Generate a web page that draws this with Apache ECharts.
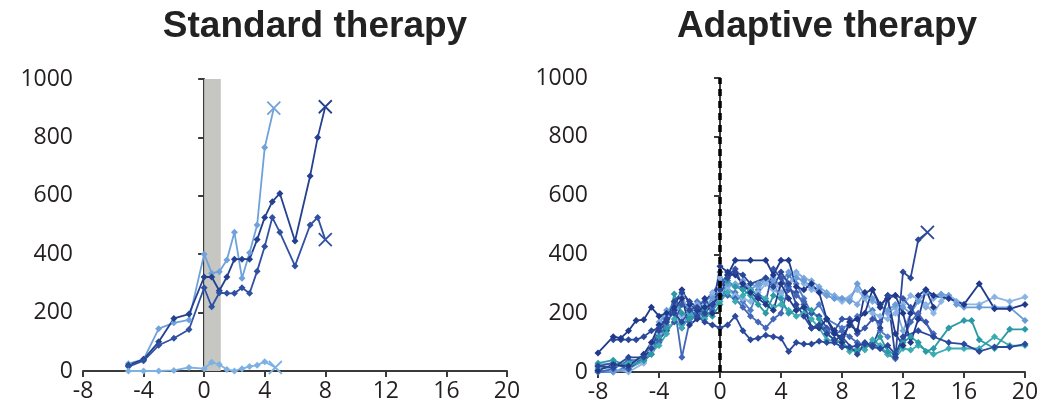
<!DOCTYPE html>
<html>
<head>
<meta charset="utf-8">
<script src="https://cdn.jsdelivr.net/npm/echarts@6/dist/echarts.min.js"></script>
<style>
  html, body { margin: 0; padding: 0; background: #fff; }
  #chart { width: 1052px; height: 404px; }
</style>
</head>
<body>
<div id="chart"></div>
<script>
// Tumour burden over time (months from treatment start) for each patient.
const xTicks = [-8, -4, 0, 4, 8, 12, 16, 20];
const yTicks = [0, 200, 400, 600, 800, 1000];
const titles = ['Standard therapy', 'Adaptive therapy'];

// Standard therapy window (shaded band), months
const standardWindow = [0, 1.1];
// Adaptive therapy start (dashed line), months
const adaptiveStart = 0;

// Standard therapy patients
const stdA = [[-5,25],[-4,40],[-3,145],[-2,165],[-1,175],[0,400],[0.5,335],[1,340],[1.5,380],[2,475],[2.5,318],[3,405],[3.5,500],[4,765],[4.6,900]];
const stdB = [[-5,20],[-4,40],[-3,100],[-2,180],[-1,195],[0,322],[0.5,322],[1,275],[1.5,322],[2,383],[2.5,383],[3,383],[3.5,450],[4,526],[4.5,580],[5,608],[6,445],[7,668],[7.5,800],[8,905]];
const stdC = [[-5,15],[-4,35],[-3,88],[-2,112],[-1,142],[0,285],[0.5,220],[1,268],[1.5,266],[2,266],[2.5,285],[3,266],[3.5,342],[4,426],[4.5,526],[5,475],[6,360],[7,500],[7.5,526],[8,450]];
const stdD = [[-5,0],[-4,0],[-3,0],[-2,2],[-1,12],[0,8],[0.5,30],[1,22],[1.5,5],[2,0],[2.5,8],[3,15],[3.5,20],[4,32],[4.7,12]];
const stdSeries = [stdA, stdB, stdC, stdD];
const stdColors = ['#6fa2db', '#24418f', '#3050a2', '#7db1e3'];
const stdEndsWithCross = [true, true, true, true];

// Adaptive therapy patients
const adpR1 = [[-8,20],[-7,15],[-6,50],[-5,50],[-4.5,80],[-4,140],[-3.5,170],[-3,240],[-2.5,270],[-2,240],[-1.5,220],[-1,200],[-0.5,230],[0,280],[0.5,320],[1,340],[1.5,330],[2,300],[3,320],[3.5,290],[4,340],[4.5,300],[5,230],[5.5,190],[6,150],[6.5,160],[7,130],[7.5,110],[8,120],[9,60],[9.5,100],[10,90],[10.5,150],[11,260],[11.5,50],[12,340],[12.5,320],[13,450],[13.6,475]];
const adpR2 = [[-8,65],[-7,120],[-6.5,115],[-6,140],[-5.5,175],[-5,178],[-4.5,220],[-4,190],[-3.5,200],[-3,220],[-2.5,280],[-2,230],[-1.5,210],[-1,220],[-0.5,230],[0,260],[0.5,330],[1,380],[2,380],[3,380],[3.5,330],[4,380],[4.5,380],[5,290],[5.5,280],[6,300],[6.5,270],[7,180],[7.5,140],[8,100],[8.5,170],[9,180],[9.5,200],[10,280],[10.5,220],[11,260],[11.5,260],[12,200],[12.5,100],[13,180],[13.5,280],[14,260],[15,250],[16,230],[17,300],[18,215],[19,215],[20,230]];
const adpR3 = [[-7,110],[-6.5,110],[-6,110],[-5.5,110],[-5,120],[-4.5,140],[-4,150],[-3.5,180],[-3,200],[-2.5,170],[-2,210],[-1.5,190],[-1,170],[-0.5,160],[0,150],[0.5,160],[1,190],[1.5,140],[2,110],[2.5,115],[3,125],[3.5,120],[4,115],[4.5,70],[5,100],[5.5,95],[6,95],[6.5,105],[7,100],[7.5,100],[8,85],[8.5,85],[9,90],[9.5,95],[10,85],[10.5,80],[11,90],[11.5,60],[12,120],[13,140],[14,120],[15,100],[16,95],[17,70],[18,85],[19,85],[20,95]];
const adpR4 = [[-8,30],[-7,40],[-6,20],[-5,40],[-4.5,60],[-4,120],[-3.5,150],[-3,265],[-2.5,200],[-2,180],[-1.5,190],[-1,210],[-0.5,190],[0,230],[0.5,310],[1,290],[1.5,280],[2,260],[2.5,230],[3,200],[3.5,260],[4,250],[4.5,200],[5,210],[5.5,220],[6,210],[6.5,180],[7,130],[7.5,110],[8,100],[8.5,80],[9,70],[9.5,90],[10,90],[10.5,120],[11,70],[11.5,60],[12,100],[12.5,120],[13,100],[13.5,70],[14,80],[15,150],[16,175],[16.5,175],[17,110],[18,80],[19,145],[20,145]];
const adpR5 = [[-8,10],[-7,20],[-6,30],[-5,50],[-4,90],[-3.5,130],[-3,180],[-2.5,150],[-2,200],[-1,180],[0,240],[0.5,270],[1,240],[1.5,260],[2,280],[3,250],[3.5,220],[4,230],[4.5,210],[5,190],[5.5,200],[6,180],[6.5,150],[7,110],[8,100],[8.5,70],[9,80],[9.5,75],[10,110],[10.5,90],[11,60],[11.5,50],[12,80],[12.5,75],[13,90],[14,60],[15,80],[16,80],[17,80],[18,120],[19,90],[20,90]];
const adpR6 = [[-8,5],[-7,0],[-6,10],[-5,40],[-4.5,90],[-4,160],[-3.5,210],[-3,200],[-2.5,230],[-2,220],[-1.5,200],[-1,220],[-0.5,250],[0,270],[0.5,300],[1,290],[1.5,310],[2,280],[2.5,300],[3,320],[3.5,310],[4,300],[4.5,340],[5,320],[5.5,310],[6,290],[6.5,280],[7,260],[7.5,250],[8,250],[8.5,240],[9,300],[9.5,260],[10,250],[10.5,220],[11,210],[11.5,230],[12,220],[12.5,200],[13,240],[13.5,270],[14,260],[14.5,265],[15,260],[15.5,230],[16,220],[17,220],[18,220],[19,220],[20,175]];
const adpR7 = [[-8,15],[-7,10],[-6,0],[-5,30],[-4.5,70],[-4,130],[-3.5,190],[-3,210],[-2.5,190],[-2,170],[-1.5,220],[-1,230],[-0.5,270],[0,290],[0.5,280],[1,260],[1.5,250],[2,240],[2.5,270],[3,300],[3.5,280],[4,260],[4.5,290],[5,330],[5.5,300],[6,280],[7,260],[7.5,250],[8,240],[9,280],[9.5,250],[10,200],[10.5,190],[11,180],[11.5,200],[12,230],[12.5,260],[13,250],[13.5,230],[14,200],[14.5,240],[15,260],[16,230],[17,230],[18,255],[19,240],[20,255]];
const adpR8 = [[-8,0],[-7,10],[-6,40],[-5,40],[-4.5,60],[-4,100],[-3.5,180],[-3,230],[-2.5,50],[-2,170],[-1.5,200],[-1,190],[-0.5,210],[0,340],[0.5,260],[1,250],[1.5,220],[2,190],[2.5,170],[3,150],[3.5,180],[4,200],[4.5,290],[5,260],[5.5,240],[6,150],[6.5,160],[7,140],[7.5,130],[8,140],[8.5,120],[9,100],[9.5,90],[10,100],[10.5,80],[11,60],[11.5,45],[12,110],[12.5,170],[13,200],[14,130]];
const adpR9 = [[-8,5],[-7,25],[-6,20],[-5,60],[-4.5,100],[-4,160],[-3.5,180],[-3,210],[-2.5,250],[-2,160],[-1.5,180],[-1,250],[-0.5,200],[0,360],[0.5,340],[1,330],[1.5,300],[2,270],[2.5,250],[3,230],[3.5,210],[4,300],[4.5,250],[5,210],[5.5,220],[6,150],[6.5,150],[7,180],[7.5,130],[8,120],[8.5,160],[9,140],[9.5,270],[10,280],[10.5,230],[11,250],[11.5,130],[12,90],[12.5,200],[13,260],[13.5,280],[14,220]];
const adpR10 = [[-8,20],[-7,30],[-6,10],[-5,50],[-4,110],[-3.5,140],[-3,170],[-2.5,230],[-2,210],[-1,240],[0,300],[0.5,330],[1,350],[1.5,290],[2,280],[2.5,260],[3,240],[3.5,350],[4,320],[4.5,280],[5,270],[5.5,230],[6,200],[6.5,190],[7,150],[7.5,140],[8,180],[8.5,180],[9,130],[9.5,150],[10,180],[10.5,170],[11,250],[11.5,260],[12,250],[12.5,220],[13,180],[13.5,170],[14,120]];
const adpR11 = [[-8,25],[-7,30],[-6,15],[-5,35],[-4.5,80],[-4,170],[-3.5,200],[-3,240],[-2.5,260],[-2,200],[-1.5,230],[-1,200],[-0.5,260],[0,320],[0.5,290],[1,300],[1.5,280],[2,300],[2.5,290],[3,310],[3.5,320],[4,270],[4.5,300],[5,340],[5.5,320],[6,310],[6.5,290],[7,270],[7.5,260],[8,250],[8.5,250],[9,230],[9.5,270],[10,240],[10.5,230],[11,200],[11.5,220],[12,140],[12.5,200],[13,250],[13.5,220],[14,250],[14.5,260],[15,250],[15.5,240]];
const adpR12 = [[-8,0],[-7,0],[-6,20],[-5,60],[-4,120],[-3.5,160],[-3,220],[-2.5,150],[-2,190],[-1.5,240],[-1,230],[-0.5,220],[0,250],[0.5,280],[1,270],[1.5,240],[2,210],[2.5,280],[3,320],[3.5,300],[4,250],[4.5,330],[5,300],[5.5,250],[6,200],[6.5,230],[7,180],[8,150],[8.5,160],[9,190],[10,210],[10.5,140],[11,120]];
const adpSeries = [adpR12, adpR11, adpR7, adpR6, adpR10, adpR8, adpR5, adpR4, adpR9, adpR3, adpR2, adpR1];
const adpColors = ['#4f7cc6', '#7eaade', '#8ab5e4', '#6a9cd8', '#3654aa', '#4266b8', '#3aacb2', '#2a9aa6', '#22398a', '#2a489c', '#1f3a8c', '#2b4797'];
const adpEndsWithCross = [false, false, false, false, false, false, false, false, false, false, false, true];

const CROSS = 'path://M0,0L10,10M10,0L0,10';

function makeSeries(list, colors, crosses, gridIndex) {
  return list.map((pts, i) => {
    const c = colors[i];
    const data = pts.map((p, j) => {
      if (crosses[i] && j === pts.length - 1) {
        return {
          value: p,
          symbol: CROSS,
          symbolSize: 13,
          itemStyle: { color: 'none', borderColor: c, borderWidth: 1.8 }
        };
      }
      return p;
    });
    return {
      type: 'line',
      xAxisIndex: gridIndex,
      yAxisIndex: gridIndex,
      data: data,
      symbol: 'diamond',
      symbolSize: 7,
      showSymbol: true,
      z: 3,
      lineStyle: { color: c, width: 1.8 },
      itemStyle: { color: c },
      emphasis: { disabled: true },
      animation: false
    };
  });
}

const axisFont = { fontFamily: 'Open Sans', fontSize: 23, color: '#231f20' };
const axisLineStyle = { color: '#3a3a3a', width: 2 };

function xAxisFor(gridIndex) {
  return {
    type: 'value', gridIndex, min: xTicks[0], max: xTicks[xTicks.length - 1], interval: 4,
    axisLine: { show: true, onZero: false, lineStyle: axisLineStyle },
    axisTick: { show: true, length: 6, lineStyle: axisLineStyle },
    axisLabel: Object.assign({ margin: 9, showMinLabel: true, showMaxLabel: true,
      formatter: v => String(v) }, axisFont),
    splitLine: { show: false }
  };
}
function yAxisFor(gridIndex) {
  return {
    type: 'value', gridIndex, min: yTicks[0], max: yTicks[yTicks.length - 1], interval: 200,
    axisLine: { show: true, lineStyle: axisLineStyle },
    axisTick: { show: true, length: 6, lineStyle: axisLineStyle },
    axisLabel: Object.assign({ margin: 10, showMinLabel: true, showMaxLabel: true,
      formatter: v => String(v) }, axisFont),
    splitLine: { show: false }
  };
}

const chart = echarts.init(document.getElementById('chart'), null, { renderer: 'canvas' });

const titleStyle = { fontFamily: 'Liberation Sans', fontWeight: 'bold', fontSize: 37, color: '#222' };

const option = {
  backgroundColor: '#ffffff',
  animation: false,
  title: [
    { text: titles[0], left: 310, top: 3, textAlign: 'center', textStyle: titleStyle },
    { text: titles[1], left: 822, top: 3, textAlign: 'center', textStyle: titleStyle }
  ],
  grid: [
    { left: 83, top: 79, width: 424, height: 292 },
    { left: 598, top: 78, width: 427, height: 294 }
  ],
  xAxis: [xAxisFor(0), xAxisFor(1)],
  yAxis: [yAxisFor(0), yAxisFor(1)],
  series: [
    {
      type: 'line', xAxisIndex: 0, yAxisIndex: 0, data: [], z: 1,
      markArea: {
        silent: true,
        itemStyle: { color: '#c6c6c2' },
        data: [[{ xAxis: standardWindow[0] }, { xAxis: standardWindow[1] }]]
      }
    }
  ].concat(makeSeries(stdSeries, stdColors, stdEndsWithCross, 0))
   .concat(makeSeries(adpSeries, adpColors, adpEndsWithCross, 1))
   .concat([{
      type: 'line', xAxisIndex: 1, yAxisIndex: 1, data: [], z: 10,
      markLine: {
        silent: true,
        symbol: ['none', 'none'],
        label: { show: false },
        lineStyle: { color: '#000', width: 3.5, type: [7, 5], opacity: 1 },
        data: [{ xAxis: adaptiveStart }]
      }
    }])
};

chart.setOption(option);
</script>
</body>
</html>
